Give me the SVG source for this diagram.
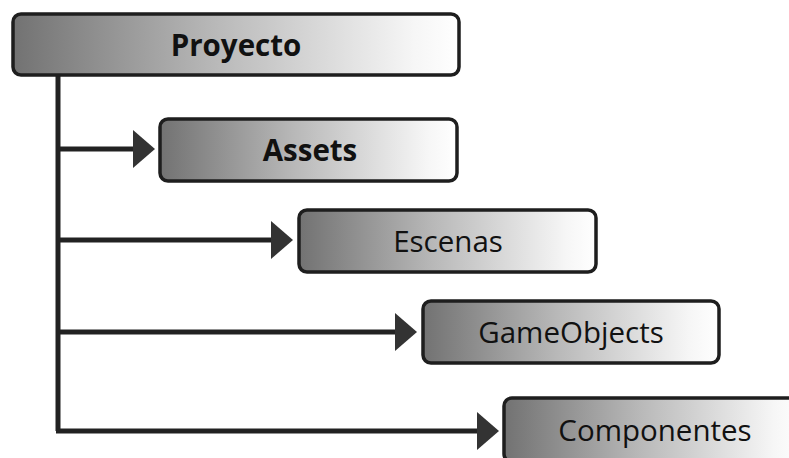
<svg xmlns="http://www.w3.org/2000/svg" width="789" height="458" viewBox="0 0 789 458">
  <defs>
    <linearGradient id="boxFill" x1="0" y1="0" x2="1" y2="0">
      <stop offset="0" stop-color="#727272"/>
      <stop offset="0.45" stop-color="#b8b8b8"/>
      <stop offset="0.9" stop-color="#f6f6f6"/>
      <stop offset="1" stop-color="#ffffff"/>
    </linearGradient>
    <marker id="head" viewBox="0 0 22 38" refX="2" refY="19" markerWidth="22" markerHeight="38" markerUnits="userSpaceOnUse" orient="auto">
      <path d="M0,0 L22,19 L0,38 Z" fill="#333"/>
    </marker>
    <style>
      .box { fill: url(#boxFill); stroke: #1e1e1e; stroke-width: 3.5; }
      .lbl { font-family: "Open Sans", "Noto Sans", "Liberation Sans", sans-serif; font-size: 29.5px; fill: #111; text-anchor: middle; dominant-baseline: central; }
      .bold { font-weight: bold; }
      .wire { fill: none; stroke: #222; stroke-width: 5; }
    </style>
  </defs>
  <rect width="789" height="458" fill="#ffffff"/>

  <g id="connectors">
    <path class="wire" d="M58,76 V431"/>
    <path class="wire" d="M56,149 H135" marker-end="url(#head)"/>
    <path class="wire" d="M56,240 H273" marker-end="url(#head)"/>
    <path class="wire" d="M56,332 H397" marker-end="url(#head)"/>
    <path class="wire" d="M56,431 H479" marker-end="url(#head)"/>
  </g>

  <g id="proyecto">
    <rect class="box" x="13" y="14" width="446" height="61" rx="8"/>
    <text class="lbl bold" x="236" y="44">Proyecto</text>
  </g>
  <g id="assets">
    <rect class="box" x="160" y="119" width="297" height="62" rx="8"/>
    <text class="lbl bold" x="310" y="149">Assets</text>
  </g>
  <g id="escenas">
    <rect class="box" x="299" y="210" width="297" height="62" rx="8"/>
    <text class="lbl" x="448" y="240">Escenas</text>
  </g>
  <g id="gameobjects">
    <rect class="box" x="423" y="301" width="296" height="62" rx="8"/>
    <text class="lbl" x="571" y="331">GameObjects</text>
  </g>
  <g id="componentes">
    <rect class="box" x="504" y="398" width="300" height="64" rx="8"/>
    <text class="lbl" x="655" y="429">Componentes</text>
  </g>
</svg>
